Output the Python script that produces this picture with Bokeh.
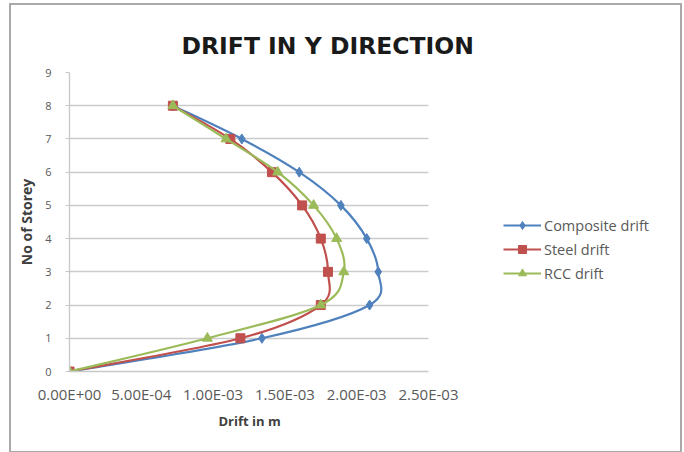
import numpy as np
from bokeh.plotting import figure
from bokeh.models import Range1d, FixedTicker, CustomJSTickFormatter, Legend, LegendItem, Title
from bokeh.embed import file_html
from bokeh.resources import INLINE

storey = [0, 1, 2, 3, 4, 5, 6, 7, 8]
composite_drift = [0.0, 1.34e-3, 2.09e-3, 2.15e-3, 2.07e-3, 1.89e-3, 1.60e-3, 1.20e-3, 7.2e-4]
steel_drift = [0.0, 1.19e-3, 1.75e-3, 1.80e-3, 1.75e-3, 1.62e-3, 1.41e-3, 1.12e-3, 7.2e-4]
rcc_drift = [0.0, 0.96e-3, 1.75e-3, 1.91e-3, 1.86e-3, 1.70e-3, 1.45e-3, 1.09e-3, 7.2e-4]
x_ticks = [0.0, 5e-4, 1e-3, 1.5e-3, 2e-3, 2.5e-3]
y_ticks = [0, 1, 2, 3, 4, 5, 6, 7, 8, 9]
x_max = 2.5e-3
y_max = 9

FONT = "Open Sans"

# plot frame widened to the right so the legend sits inside it; the axis and
# gridlines are bounded to the data area (0 .. x_max), as in the original
AXIS_W = 359          # pixel width of the data area
FRAME_W = 607         # pixel width of the whole frame (data area + legend area)
x_end = x_max * FRAME_W / AXIS_W


def smooth_segments(xs, ys):
    """Bezier pieces through the data points (Excel-style 'smoothed line')."""
    P = np.column_stack([xs, ys]).astype(float)
    Q = np.vstack([P[0], P, P[-1]])
    a, b = Q[1:-2], Q[2:-1]
    c1 = a + (b - Q[:-3]) / 6.0
    c2 = b - (Q[3:] - a) / 6.0
    return dict(x0=a[:, 0], y0=a[:, 1], x1=b[:, 0], y1=b[:, 1],
                cx0=c1[:, 0], cy0=c1[:, 1], cx1=c2[:, 0], cy1=c2[:, 1])


p = figure(width=669, height=446, output_backend="svg", toolbar_location=None,
           x_range=Range1d(0, x_end), y_range=Range1d(0, y_max),
           min_border_left=58, min_border_right=669 - 58 - FRAME_W,
           min_border_top=67, min_border_bottom=80)
p.styles = {"margin-left": "11px", "margin-top": "5px",
            "box-shadow": "0 0 0 2px #a9a9a9"}
p.outline_line_color = None
p.background_fill_color = "white"
p.border_fill_color = "white"

p.title.text = "DRIFT IN Y DIRECTION"
p.title.text_font = "DejaVu Sans"
p.title.text_font_size = "23.5px"
p.title.text_font_style = "bold"
p.title.text_color = "#1a1a1a"
p.title.align = "left"
p.title.offset = 112
p.title.standoff = 26

p.xgrid.grid_line_color = None
p.ygrid.grid_line_color = "#cccccc"
p.ygrid.grid_line_width = 1.3
p.ygrid.cross_bounds = (0, x_max)

p.xaxis.ticker = FixedTicker(ticks=x_ticks)
p.xaxis.bounds = (0, x_max)
p.xaxis.formatter = CustomJSTickFormatter(code="""
let s = tick.toExponential(2).toUpperCase();
s = s.replace(/E([+-])(\\d)$/, 'E$10$2');
return s;
""")
p.yaxis.ticker = FixedTicker(ticks=y_ticks)

for ax in (p.xaxis[0], p.yaxis[0]):
    ax.axis_line_color = "#c8c8c8"
    ax.axis_line_width = 1.3
    ax.major_tick_line_color = "#c8c8c8"
    ax.minor_tick_line_color = None
    ax.major_label_text_font = FONT
    ax.major_label_text_color = "#595959"
    ax.axis_label_text_font = FONT
    ax.axis_label_text_font_style = "bold"
    ax.axis_label_text_color = "#404040"

p.xaxis.major_tick_out = 0
p.xaxis.major_tick_in = 0
p.xaxis.major_label_text_font_size = "15px"
p.xaxis.major_label_standoff = 12

# x-axis caption centred under the data area (not the widened frame)
x_caption = Title(text="Drift in m", text_font=FONT, text_font_size="13px",
                  text_font_style="bold", text_color="#404040",
                  align="left", offset=149, standoff=6)
p.add_layout(x_caption, "below")

p.yaxis.major_tick_out = 4
p.yaxis.major_tick_in = 0
p.yaxis.major_label_text_font_size = "11px"
p.yaxis.major_label_standoff = 14
p.yaxis.axis_label = "No of Storey"
p.yaxis.axis_label_text_font_size = "14px"
p.yaxis.axis_label_standoff = 6

blue, red, green = "#4F81BD", "#C0504D", "#9BBB59"

series = [
    ("Composite drift", composite_drift, blue, "diamond", 10),
    ("Steel drift", steel_drift, red, "square", 9),
    ("RCC drift", rcc_drift, green, "triangle", 10),
]
items = []
for label, xs, col, marker, size in series:
    ln = p.bezier(line_color=col, line_width=2.2, **smooth_segments(xs, storey))
    mk = p.scatter(xs, storey, marker=marker, size=size, fill_color=col, line_color=col)
    items.append(LegendItem(label=label, renderers=[ln, mk]))

legend = Legend(items=items, location=(434, 88))
legend.padding = 0
legend.margin = 0
legend.spacing = 4
legend.border_line_color = None
legend.background_fill_alpha = 0
legend.glyph_width = 38
legend.glyph_height = 20
legend.label_height = 20
legend.label_standoff = 3
legend.label_text_font = FONT
legend.label_text_font_size = "14.5px"
legend.label_text_color = "#595959"
p.add_layout(legend, "center")

open("out.html", "w").write(file_html(p, INLINE))
